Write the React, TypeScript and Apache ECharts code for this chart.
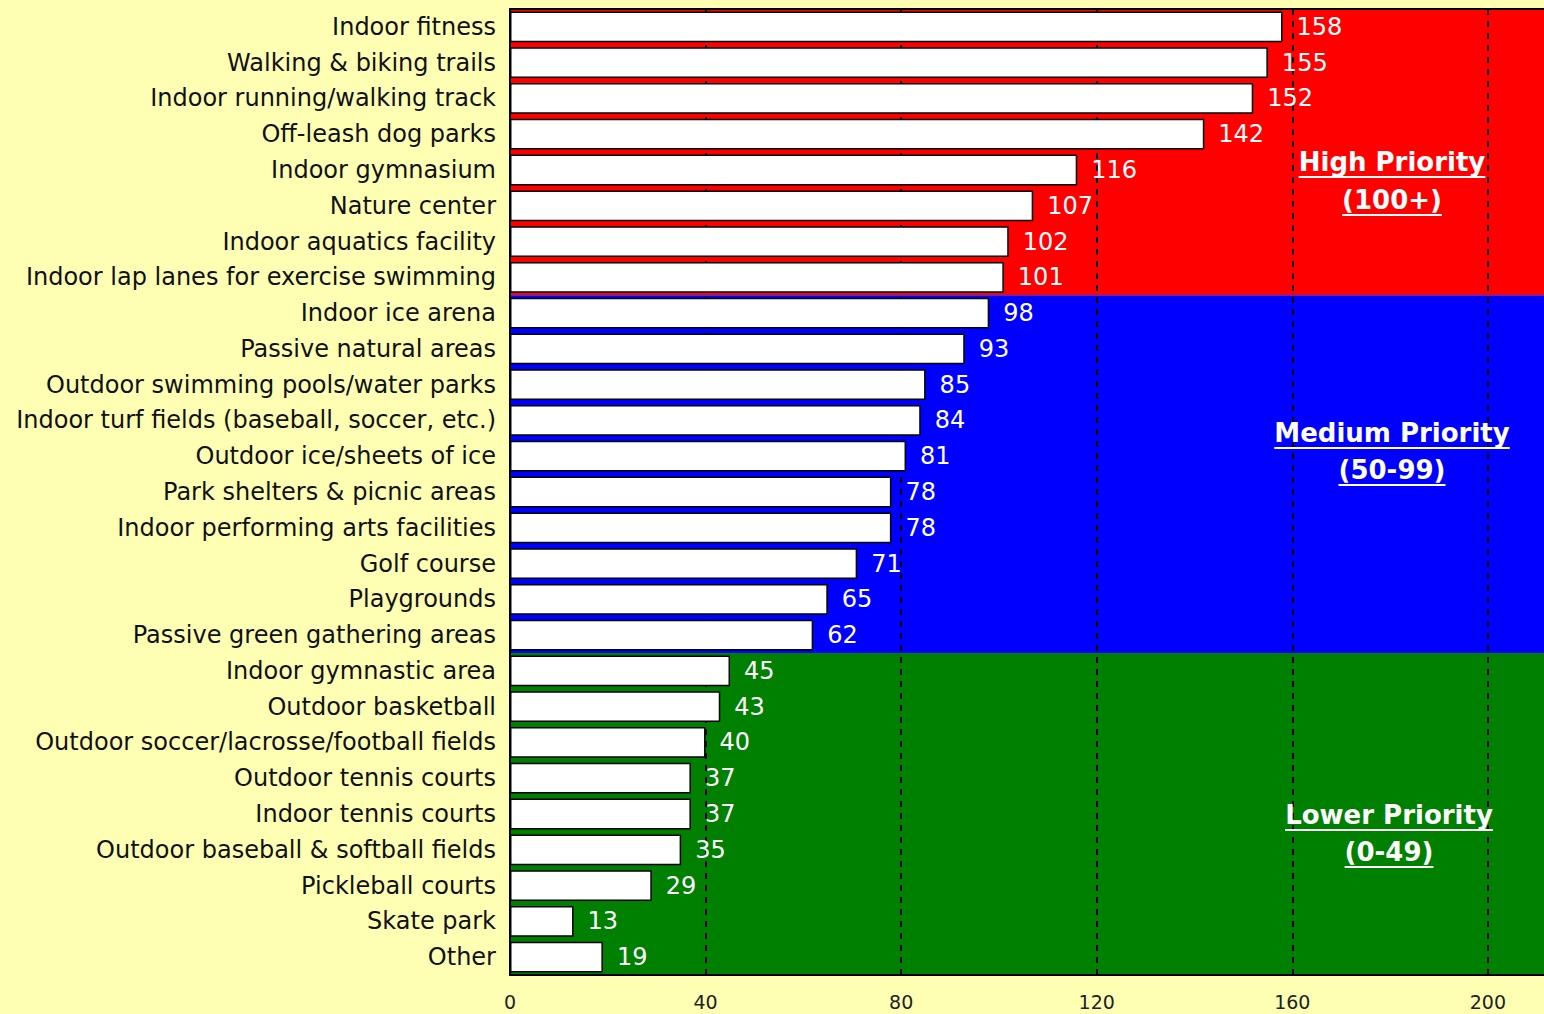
import React, { useEffect, useRef } from "react";
import * as echarts from "echarts";

const categories = [
  "Indoor fitness",
  "Walking & biking trails",
  "Indoor running/walking track",
  "Off-leash dog parks",
  "Indoor gymnasium",
  "Nature center",
  "Indoor aquatics facility",
  "Indoor lap lanes for exercise swimming",
  "Indoor ice arena",
  "Passive natural areas",
  "Outdoor swimming pools/water parks",
  "Indoor turf fields (baseball, soccer, etc.)",
  "Outdoor ice/sheets of ice",
  "Park shelters & picnic areas",
  "Indoor performing arts facilities",
  "Golf course",
  "Playgrounds",
  "Passive green gathering areas",
  "Indoor gymnastic area",
  "Outdoor basketball",
  "Outdoor soccer/lacrosse/football fields",
  "Outdoor tennis courts",
  "Indoor tennis courts",
  "Outdoor baseball & softball fields",
  "Pickleball courts",
  "Skate park",
  "Other",
];

const values = [
  158, 155, 152, 142, 116, 107, 102, 101, 98, 93, 85, 84, 81, 78, 78, 71, 65, 62,
  45, 43, 40, 37, 37, 35, 29, 13, 19,
];

// band ranges by category index [start, end)
const bands = [
  { from: 0, to: 8, color: "#FF0000", title: "High Priority", sub: "(100+)" },
  { from: 8, to: 18, color: "#0000FF", title: "Medium Priority", sub: "(50-99)" },
  { from: 18, to: 27, color: "#008000", title: "Lower Priority", sub: "(0-49)" },
];

const xTicks = [0, 40, 80, 120, 160, 200];

const FONT = '"DejaVu Sans", Verdana, sans-serif';

export default function App() {
  const ref = useRef<HTMLDivElement>(null);

  useEffect(() => {
    if (!ref.current) return;
    const chart = echarts.init(ref.current, null, { renderer: "svg" });

    const ctx = document.createElement("canvas").getContext("2d")!;
    const annSize = 26;
    const measure = (t: string) => {
      ctx.font = `bold ${annSize}px "DejaVu Sans"`;
      return ctx.measureText(t).width;
    };

    const annotPos = [
      { x: 1392, y1: 162, y2: 200 },
      { x: 1392, y1: 433, y2: 470 },
      { x: 1389, y1: 815, y2: 852 },
    ];
    const graphics: any[] = [];
    bands.forEach((b, i) => {
      const p = annotPos[i];
      [
        { t: b.title, y: p.y1 },
        { t: b.sub, y: p.y2 },
      ].forEach((l) => {
        const w = measure(l.t);
        graphics.push({
          type: "text",
          x: p.x,
          y: l.y,
          z: 10,
          style: {
            text: l.t,
            fill: "#ffffff",
            font: `bold ${annSize}px ${FONT}`,
            align: "center",
            verticalAlign: "middle",
          },
        });
        graphics.push({
          type: "line",
          z: 10,
          shape: { x1: p.x - w / 2, y1: l.y + 15, x2: p.x + w / 2, y2: l.y + 15 },
          style: { stroke: "#ffffff", lineWidth: 2 },
        });
      });
    });

    chart.setOption({
      animation: false,
      backgroundColor: "#FFFFB4",
      grid: {
        left: 510,
        top: 9,
        right: -6,
        bottom: 39,
        outerBoundsMode: "none",
        containLabel: false,
        show: true,
        z: 4,
        borderColor: "#000",
        borderWidth: 2,
        backgroundColor: "transparent",
      },
      xAxis: {
        type: "value",
        min: 0,
        max: 212.7,
        interval: 40,
        z: 3,
        axisLine: { show: true, lineStyle: { color: "#000", width: 2 } },
        axisTick: { show: false },
        axisLabel: {
          fontSize: 19,
          fontFamily: FONT,
          color: "#222",
          margin: 17,
          formatter: (v: number) => (xTicks.includes(v) ? String(v) : ""),
        },
        splitLine: {
          show: true,
          lineStyle: { color: "#000", width: 2, type: [6, 6] },
        },
      },
      yAxis: [
        {
          type: "category",
          data: categories,
          inverse: true,
          z: 3,
          axisLine: { show: true, lineStyle: { color: "#000", width: 2 } },
          axisTick: { show: false },
          axisLabel: {
            fontSize: 24,
            fontFamily: FONT,
            color: "#111",
            margin: 14,
          },
        },
        {
          type: "value",
          min: 0,
          max: categories.length,
          inverse: true,
          show: false,
        },
      ],
      series: [
        {
          type: "scatter",
          xAxisIndex: 0,
          yAxisIndex: 1,
          symbolSize: 0,
          data: [[0, 0]],
          silent: true,
          markArea: {
            silent: true,
            z: 1,
            data: bands.map((b) => [
              { yAxis: b.from, itemStyle: { color: b.color, opacity: 1 } },
              { yAxis: b.to },
            ]),
          },
        },
        {
          type: "bar",
          z: 5,
          data: values,
          barCategoryGap: "14%",
          itemStyle: { color: "#ffffff", borderColor: "#000", borderWidth: 1.5 },
          label: {
            show: true,
            position: "right",
            distance: 14,
            color: "#ffffff",
            fontSize: 24,
            fontFamily: FONT,
          },
        },
      ],
      graphic: graphics,
    });

    return () => chart.dispose();
  }, []);

  return (
    <div
      ref={ref}
      style={{ position: "fixed", left: 0, top: 0, width: 1544, height: 1014 }}
    />
  );
}
